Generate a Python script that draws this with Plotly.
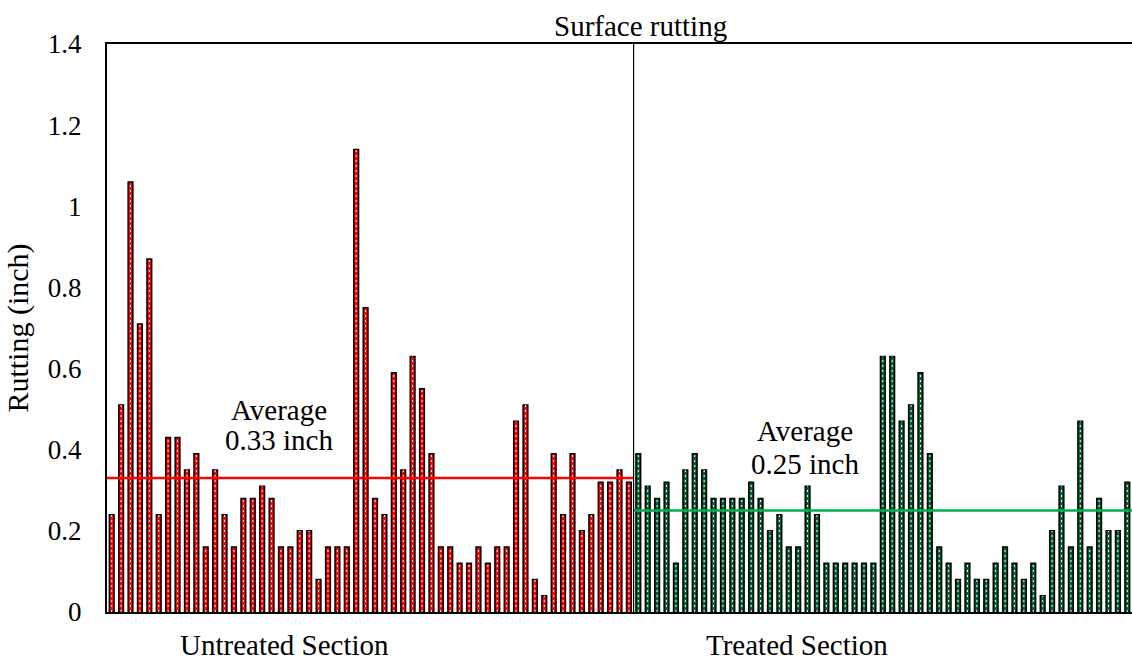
import plotly.graph_objects as go

untreated = [0.24, 0.51, 1.06, 0.71, 0.87, 0.24, 0.43, 0.43, 0.35, 0.39,
             0.16, 0.35, 0.24, 0.16, 0.28, 0.28, 0.31, 0.28, 0.16, 0.16,
             0.20, 0.20, 0.08, 0.16, 0.16, 0.16, 1.14, 0.75, 0.28, 0.24,
             0.59, 0.35, 0.63, 0.55, 0.39, 0.16, 0.16, 0.12, 0.12, 0.16,
             0.12, 0.16, 0.16, 0.47, 0.51, 0.08, 0.04, 0.39, 0.24, 0.39,
             0.20, 0.24, 0.32, 0.32, 0.35, 0.32]
treated = [0.39, 0.31, 0.28, 0.32, 0.12, 0.35, 0.39, 0.35, 0.28, 0.28,
           0.28, 0.28, 0.32, 0.28, 0.20, 0.24, 0.16, 0.16, 0.31, 0.24,
           0.12, 0.12, 0.12, 0.12, 0.12, 0.12, 0.63, 0.63, 0.47, 0.51,
           0.59, 0.39, 0.16, 0.12, 0.08, 0.12, 0.08, 0.08, 0.12, 0.16,
           0.12, 0.08, 0.12, 0.04, 0.20, 0.31, 0.16, 0.47, 0.16, 0.28,
           0.20, 0.20, 0.32]
avg_untreated = 0.33
avg_treated = 0.25
section_labels = ["Untreated Section", "Treated Section"]
avg_labels = ["Average", "0.33 inch", "Average", "0.25 inch"]
y_ticks = [0, 0.2, 0.4, 0.6, 0.8, 1.0, 1.2, 1.4]
y_ticktext = ["0", "0.2", "0.4", "0.6", "0.8", "1", "1.2", "1.4"]

FONT = "Liberation Serif"

n_u = len(untreated)
n_t = len(treated)
x_u = list(range(n_u))
x_t = list(range(n_u, n_u + n_t))
split = n_u - 0.5
x_end = n_u + n_t - 0.5

fig = go.Figure()
fig.add_trace(go.Bar(x=x_u, y=untreated, width=0.5,
                     marker=dict(color="#FF0000", line=dict(color="black", width=1.5))))
fig.add_trace(go.Bar(x=x_t, y=treated, width=0.5,
                     marker=dict(color="#00602B", line=dict(color="black", width=1.5))))

# dashed white center lines inside bars
def center_lines(xs, ys):
    lx, ly = [], []
    for xv, yv in zip(xs, ys):
        lx += [xv, xv, None]
        ly += [0, yv, None]
    return lx, ly

for xs, ys in [(x_u, untreated), (x_t, treated)]:
    lx, ly = center_lines(xs, ys)
    fig.add_trace(go.Scatter(x=lx, y=ly, mode="lines", hoverinfo="skip",
                             line=dict(color="white", width=1, dash="2px,3px")))

# average lines
fig.add_trace(go.Scatter(x=[-0.5, split], y=[avg_untreated, avg_untreated], mode="lines",
                         line=dict(color="#FF0000", width=2.5)))
fig.add_trace(go.Scatter(x=[split, x_end], y=[avg_treated, avg_treated], mode="lines",
                         line=dict(color="#00B050", width=2.5)))
# divider
fig.add_trace(go.Scatter(x=[split, split], y=[0, 1.4], mode="lines",
                         line=dict(color="black", width=1.2)))

ann_font = dict(family=FONT, size=29, color="black")
annotations = [
    dict(x=279, y=0.498, text=avg_labels[0]),
    dict(x=279, y=0.424, text=avg_labels[1]),
    dict(x=805, y=0.445, text=avg_labels[2]),
    dict(x=805, y=0.365, text=avg_labels[3]),
]
ann_list = []
for a in annotations:
    ann_list.append(dict(x=(a["x"] - 107) / 1025, y=a["y"], xref="paper", yref="y",
                         text=a["text"], showarrow=False, font=ann_font,
                         xanchor="center", yanchor="middle"))
ann_list.append(dict(x=(284 - 107) / 1025, y=0.0, xref="paper", yref="paper",
                     yshift=-33, text=section_labels[0], showarrow=False, font=ann_font,
                     xanchor="center", yanchor="middle"))
ann_list.append(dict(x=(797 - 107) / 1025, y=0.0, xref="paper", yref="paper",
                     yshift=-33, text=section_labels[1], showarrow=False, font=ann_font,
                     xanchor="center", yanchor="middle"))
ann_list.append(dict(x=(640 - 107) / 1025, y=1.0, xref="paper", yref="paper",
                     yshift=18, text="Surface rutting", showarrow=False,
                     font=dict(family=FONT, size=29, color="black"),
                     xanchor="center", yanchor="middle"))

fig.update_layout(
    width=1132, height=660,
    margin=dict(l=107, r=0, t=44, b=48),
    paper_bgcolor="white", plot_bgcolor="white",
    showlegend=False,
    bargap=0.5,
    font=dict(family=FONT, size=27, color="black"),
    annotations=ann_list,
    xaxis=dict(range=[-0.5, x_end], showgrid=False, zeroline=False,
               showticklabels=False, ticks="", showline=True, mirror=True,
               linecolor="black", linewidth=2),
    yaxis=dict(range=[0, 1.4], tickvals=y_ticks, ticktext=y_ticktext,
               showgrid=False, zeroline=False, showline=True, linecolor="black",
               linewidth=2, ticks="", ticklabelstandoff=18,
               tickfont=dict(family=FONT, size=27, color="black"),
               title=dict(text="Rutting (inch)", standoff=10,
                          font=dict(family=FONT, size=30, color="black"))),
)

fig.write_html("out.html", config={"displayModeBar": False},
               post_script="document.body.style.margin='0';document.body.style.overflow='hidden';")
